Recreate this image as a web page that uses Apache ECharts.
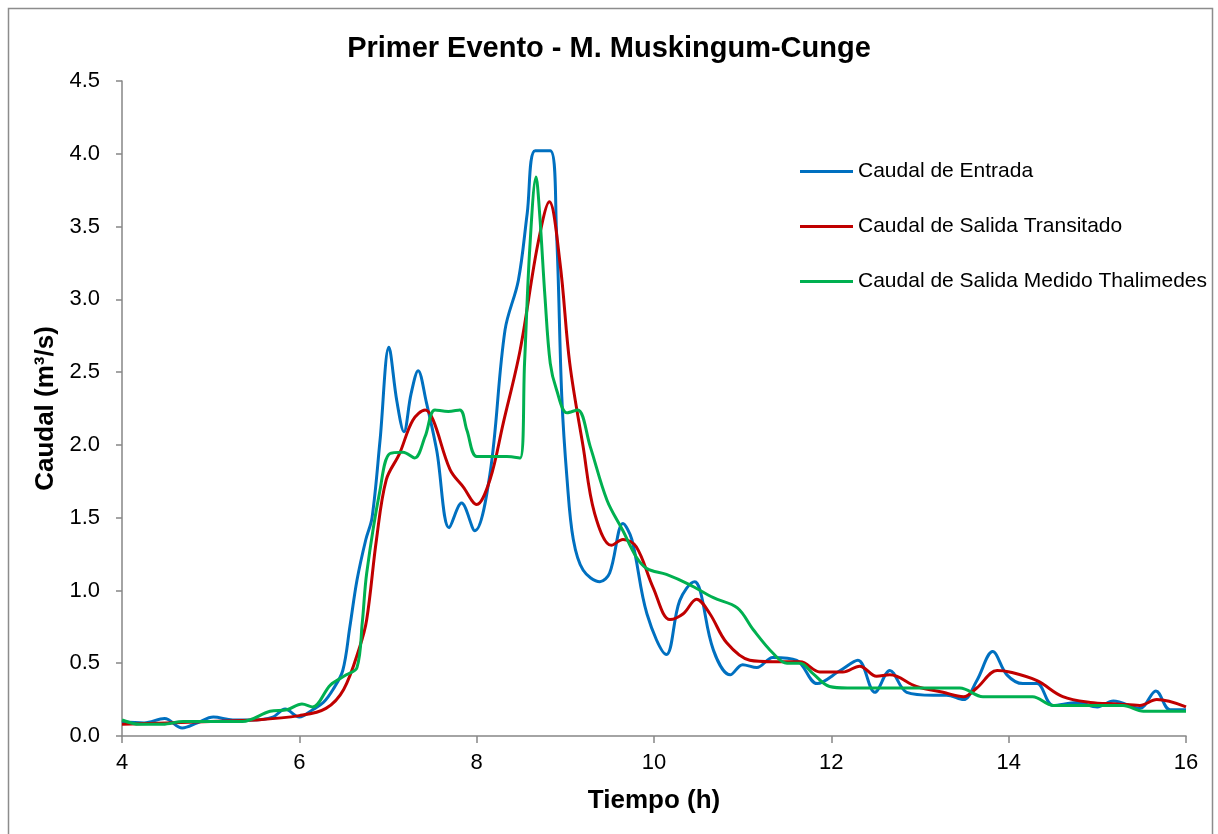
<!DOCTYPE html>
<html>
<head>
<meta charset="utf-8">
<script src="https://cdn.jsdelivr.net/npm/echarts@6/dist/echarts.min.js"></script>
<style>
  html, body { margin: 0; padding: 0; background: #fff; }
  #chart { width: 1218px; height: 834px; }
</style>
</head>
<body>
<div id="chart"></div>
<script>
// Caudal de Entrada
const tEntrada = [4.0, 4.25, 4.48, 4.68, 4.85, 5.03, 5.25, 5.48, 5.7, 5.84, 6.0, 6.15, 6.27, 6.38, 6.49, 6.57, 6.65, 6.75, 6.82, 6.91, 7.01, 7.1, 7.18, 7.26, 7.34, 7.43, 7.55, 7.69, 7.83, 7.98, 8.15, 8.32, 8.47, 8.57, 8.66, 8.83, 8.9, 8.96, 9.02, 9.09, 9.2, 9.39, 9.5, 9.65, 9.75, 9.92, 10.14, 10.29, 10.46, 10.52, 10.67, 10.86, 11.0, 11.16, 11.34, 11.61, 11.84, 12.1, 12.3, 12.49, 12.66, 12.85, 13.15, 13.3, 13.49, 13.64, 13.82, 13.98, 14.16, 14.32, 14.5, 14.77, 15.0, 15.18, 15.48, 15.66, 15.82, 16.0];
const qEntrada = [0.1, 0.09, 0.12, 0.055, 0.09, 0.13, 0.11, 0.11, 0.13, 0.185, 0.13, 0.18, 0.23, 0.32, 0.45, 0.75, 1.07, 1.35, 1.5, 2.03, 2.67, 2.3, 2.09, 2.35, 2.51, 2.3, 1.96, 1.43, 1.6, 1.41, 1.8, 2.79, 3.13, 3.59, 4.02, 4.02, 3.47, 2.33, 1.76, 1.35, 1.14, 1.06, 1.12, 1.46, 1.35, 0.84, 0.56, 0.93, 1.06, 1.0, 0.59, 0.42, 0.49, 0.47, 0.54, 0.52, 0.36, 0.45, 0.52, 0.3, 0.45, 0.3, 0.28, 0.28, 0.25, 0.38, 0.58, 0.42, 0.36, 0.36, 0.21, 0.23, 0.2, 0.24, 0.19, 0.31, 0.18, 0.18];

// Caudal de Salida Transitado
const tTransitado = [4.0, 4.5, 5.0, 5.5, 6.0, 6.3, 6.5, 6.68, 6.76, 6.87, 6.98, 7.13, 7.28, 7.42, 7.51, 7.7, 7.85, 8.0, 8.15, 8.3, 8.49, 8.69, 8.82, 8.94, 9.05, 9.2, 9.33, 9.52, 9.65, 9.8, 9.99, 10.18, 10.33, 10.48, 10.63, 10.82, 11.08, 11.34, 11.65, 11.87, 12.13, 12.32, 12.51, 12.66, 12.96, 13.26, 13.49, 13.64, 13.87, 14.01, 14.32, 14.61, 14.92, 15.22, 15.48, 15.67, 16.0];
const qTransitado = [0.08, 0.09, 0.1, 0.11, 0.14, 0.19, 0.32, 0.61, 0.8, 1.35, 1.76, 1.94, 2.17, 2.24, 2.17, 1.83, 1.71, 1.59, 1.76, 2.15, 2.65, 3.38, 3.67, 3.25, 2.56, 1.99, 1.53, 1.31, 1.35, 1.3, 1.02, 0.8, 0.84, 0.94, 0.84, 0.64, 0.52, 0.51, 0.51, 0.44, 0.44, 0.48, 0.41, 0.42, 0.34, 0.3, 0.27, 0.33, 0.45, 0.44, 0.38, 0.27, 0.23, 0.22, 0.21, 0.25, 0.2];

// Caudal de Salida Medido Thalimedes
const tMedido = [4.0, 4.2, 4.46, 4.69, 5.0, 5.36, 5.67, 5.86, 6.03, 6.15, 6.35, 6.53, 6.65, 6.71, 6.76, 6.91, 7.02, 7.17, 7.3, 7.42, 7.53, 7.68, 7.81, 7.89, 8.0, 8.15, 8.34, 8.49, 8.54, 8.6, 8.67, 8.71, 8.77, 8.83, 8.9, 9.02, 9.14, 9.28, 9.47, 9.65, 9.8, 9.92, 10.14, 10.4, 10.67, 10.94, 11.12, 11.34, 11.5, 11.65, 11.79, 11.98, 12.18, 12.55, 13.0, 13.45, 13.71, 14.0, 14.27, 14.5, 14.9, 15.29, 15.52, 16.0];
const qMedido = [0.11, 0.08, 0.08, 0.1, 0.1, 0.1, 0.17, 0.18, 0.22, 0.2, 0.35, 0.42, 0.47, 0.78, 1.12, 1.69, 1.94, 1.95, 1.91, 2.06, 2.24, 2.23, 2.24, 2.1, 1.92, 1.92, 1.92, 1.91, 2.56, 3.36, 3.84, 3.59, 3.02, 2.56, 2.38, 2.22, 2.24, 1.99, 1.62, 1.41, 1.23, 1.15, 1.11, 1.04, 0.95, 0.88, 0.73, 0.57, 0.5, 0.5, 0.43, 0.34, 0.33, 0.33, 0.33, 0.33, 0.27, 0.27, 0.27, 0.21, 0.21, 0.21, 0.17, 0.17];

const nombres = ['Caudal de Entrada', 'Caudal de Salida Transitado', 'Caudal de Salida Medido Thalimedes'];
const colores = ['#0070C0', '#C00000', '#00B050'];

const pares = (t, q) => t.map((v, i) => [v, q[i]]);
const datos = [pares(tEntrada, qEntrada), pares(tTransitado, qTransitado), pares(tMedido, qMedido)];

const fuente = 'Liberation Sans, Arial, sans-serif';
const chart = echarts.init(document.getElementById('chart'));

chart.setOption({
  animation: false,
  backgroundColor: '#fff',
  title: {
    text: 'Primer Evento - M. Muskingum-Cunge',
    left: 'center',
    top: 29,
    textStyle: { fontFamily: fuente, fontSize: 29, fontWeight: 'bold', color: '#000' }
  },
  graphic: [{
    type: 'rect',
    shape: { x: 8.5, y: 8.5, width: 1204, height: 840 },
    style: { fill: 'none', stroke: '#8c8c8c', lineWidth: 1.5 },
    silent: true
  }],
  legend: {
    orient: 'vertical',
    left: 795,
    top: 156,
    itemWidth: 53,
    itemHeight: 3,
    itemGap: 34,
    icon: 'rect',
    textStyle: { fontFamily: fuente, fontSize: 21, color: '#000' },
    data: nombres
  },
  grid: { left: 122, right: 32, top: 81, bottom: 98 },
  xAxis: {
    type: 'value',
    min: 4, max: 16, interval: 2,
    name: 'Tiempo (h)',
    nameLocation: 'middle',
    nameGap: 52,
    nameTextStyle: { fontFamily: fuente, fontSize: 26, fontWeight: 'bold', color: '#000' },
    axisLine: { lineStyle: { color: '#868686', width: 1.5 } },
    axisTick: { show: true, inside: false, length: 7, lineStyle: { color: '#868686', width: 1.5 } },
    axisLabel: { fontFamily: fuente, fontSize: 22, color: '#000', margin: 16 },
    splitLine: { show: false }
  },
  yAxis: {
    type: 'value',
    min: 0, max: 4.5, interval: 0.5,
    name: 'Caudal (m³/s)',
    nameLocation: 'middle',
    nameGap: 62,
    nameTextStyle: { fontFamily: fuente, fontSize: 26, fontWeight: 'bold', color: '#000' },
    axisLine: { show: true, lineStyle: { color: '#868686', width: 1.5 } },
    axisTick: { show: true, inside: false, length: 6, lineStyle: { color: '#868686', width: 1.5 } },
    axisLabel: { fontFamily: fuente, fontSize: 22, color: '#000', margin: 22, formatter: v => v.toFixed(1) },
    splitLine: { show: false }
  },
  series: nombres.map((n, i) => ({
    name: n,
    type: 'line',
    data: datos[i],
    smooth: 0.35,
    showSymbol: false,
    symbol: 'none',
    color: colores[i],
    lineStyle: { color: colores[i], width: 3 }
  }))
});
</script>
</body>
</html>
